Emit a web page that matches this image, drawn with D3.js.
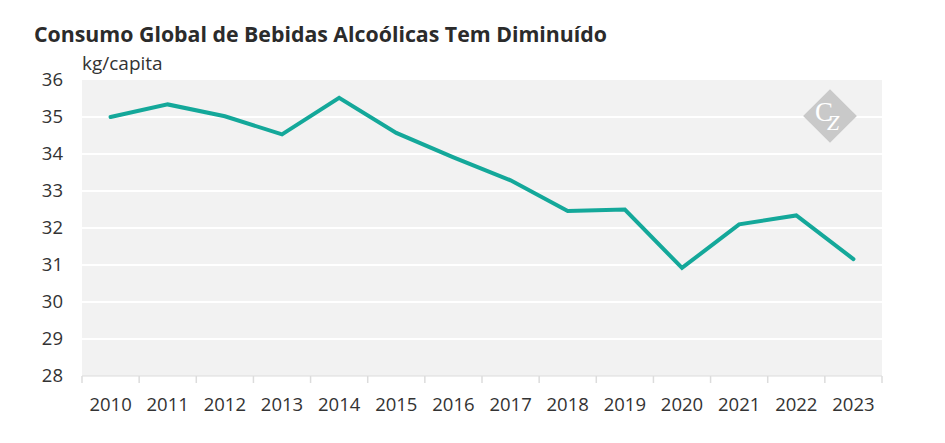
<!DOCTYPE html>
<html>
<head>
<meta charset="utf-8">
<script src="https://cdn.jsdelivr.net/npm/d3@7"></script>
<style>
  body { margin: 0; background: #fff; }
  text { font-family: "Open Sans", sans-serif; }
</style>
</head>
<body>
<svg id="svg" width="945" height="443"></svg>
<script>
const years = ["2010","2011","2012","2013","2014","2015","2016","2017","2018","2019","2020","2021","2022","2023"];
const consumo = [35.0, 35.34, 35.02, 34.53, 35.52, 34.57, 33.91, 33.29, 32.46, 32.5, 30.92, 32.1, 32.34, 31.16];
const yTicks = [28, 29, 30, 31, 32, 33, 34, 35, 36];

const title = "Consumo Global de Bebidas Alcoólicas Tem Diminuído";
const unit = "kg/capita";

const svg = d3.select("#svg");
const plotLeft = 82, plotRight = 882, plotTop = 80, plotBottom = 376;

const x = d3.scaleBand(years, [plotLeft, plotRight]);
const y = d3.scaleLinear([28, 36], [plotBottom, plotTop]);

// background
svg.append("rect").attr("x", plotLeft).attr("y", plotTop)
  .attr("width", plotRight - plotLeft).attr("height", plotBottom - plotTop).attr("fill", "#f2f2f2");

// gridlines
svg.append("g").selectAll("line").data(yTicks.filter(d => d > 28 && d < 36)).join("line")
  .attr("x1", plotLeft).attr("x2", plotRight)
  .attr("y1", d => y(d)).attr("y2", d => y(d))
  .attr("stroke", "#fff").attr("stroke-width", 2);

// logo (one text, Z dropped via tspan)
const logo = svg.append("g").attr("transform", "translate(830,116)");
logo.append("rect").attr("x", -19).attr("y", -19).attr("width", 38).attr("height", 38)
  .attr("transform", "rotate(45)").attr("fill", "#c9c9c9");
const logoText = logo.append("text").attr("x", -15).attr("y", 5)
  .style("font-family", "'Liberation Serif', serif").attr("fill", "#fff");
logoText.append("tspan").attr("font-size", 27).text("C");
logoText.append("tspan").attr("font-size", 22).attr("font-style", "italic")
  .attr("dx", -6).attr("dy", 9).text("Z");

// x axis
const xAxis = svg.append("g").attr("transform", `translate(0,${plotBottom})`);
xAxis.append("line").attr("x1", plotLeft).attr("x2", plotRight).attr("stroke", "#dcdcdc").attr("stroke-width", 1);
xAxis.selectAll("line.tick").data(years.concat(["end"])).join("line").attr("class", "tick")
  .attr("x1", (d, i) => i < years.length ? x(d) : plotRight)
  .attr("x2", (d, i) => i < years.length ? x(d) : plotRight)
  .attr("y1", 0).attr("y2", 7).attr("stroke", "#dcdcdc").attr("stroke-width", 1.5);
xAxis.selectAll("text").data(years).join("text")
  .attr("x", d => x(d) + x.bandwidth() / 2).attr("y", 35)
  .attr("text-anchor", "middle").attr("font-size", 18.5).attr("fill", "#333").text(d => d);

// y labels
svg.append("g").selectAll("text").data(yTicks).join("text")
  .attr("x", 63).attr("y", d => y(d) + 6)
  .attr("text-anchor", "end").attr("font-size", 18.5).attr("fill", "#333").text(d => d);

// line
const line = d3.line().x((d, i) => x(years[i]) + x.bandwidth() / 2).y(d => y(d));
svg.append("path").attr("d", line(consumo)).attr("fill", "none")
  .attr("stroke", "#14a89a").attr("stroke-width", 4)
  .attr("stroke-linejoin", "miter").attr("stroke-linecap", "round");

// title
svg.append("text").attr("x", 34).attr("y", 42).attr("font-size", 21.3).attr("font-weight", 700)
  .attr("fill", "#2b2b2b").text(title);
svg.append("text").attr("x", 82).attr("y", 70).attr("font-size", 19).attr("fill", "#333").text(unit);
</script>
</body>
</html>
